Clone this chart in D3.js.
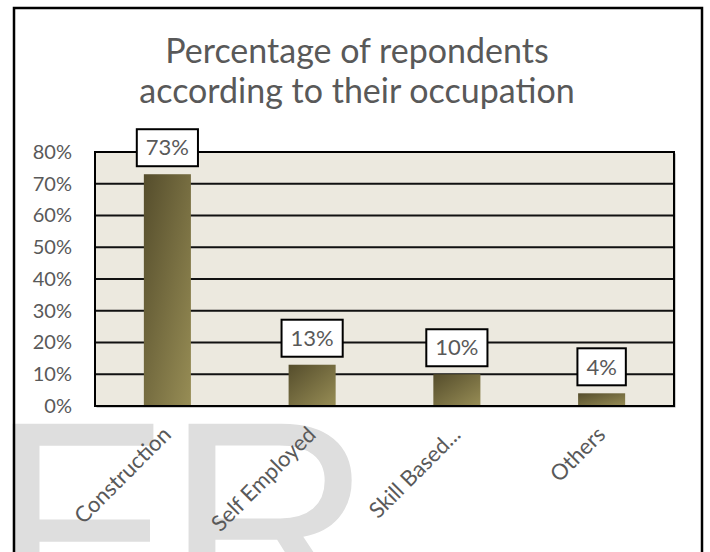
<!DOCTYPE html>
<html>
<head>
<meta charset="utf-8">
<script src="https://cdn.jsdelivr.net/npm/d3@7"></script>
<style>
  html, body { margin: 0; padding: 0; background: #fff; }
  svg { display: block; }
</style>
</head>
<body>
<svg id="chart" width="710" height="552"></svg>
<script>
// chart data
const titleLines = ['Percentage of repondents', 'according to their occupation'];
const categories = ['Construction', 'Self Employed', 'Skill Based...', 'Others'];
const values = [0.73, 0.13, 0.10, 0.04];
const yTicks = [0, 0.1, 0.2, 0.3, 0.4, 0.5, 0.6, 0.7, 0.8];
const watermark = 'FR';

const width = 710, height = 552;
const plot = {left: 95, right: 674, top: 152, bottom: 406};
const textColor = '#595959';
const font = 'Lato, "Open Sans", sans-serif';

let svg = d3.select('#chart');

// gradient for the bars
let defs = svg.append('defs');
let grad = defs.append('linearGradient')
    .attr('id', 'barGrad')
    .attr('x1', 0).attr('y1', 0)
    .attr('x2', 1).attr('y2', 1);
grad.append('stop').attr('offset', '0%').attr('stop-color', '#554d2c');
grad.append('stop').attr('offset', '100%').attr('stop-color', '#978d55');

// watermark behind everything
svg.append('text')
    .attr('x', -11)
    .attr('y', 622)
    .style('font-family', '"Liberation Sans", Arial, sans-serif')
    .style('font-size', '288px')
    .style('fill', '#dedede')
    .text(watermark);

// outer frame
svg.append('rect')
    .attr('x', 14).attr('y', 8)
    .attr('width', 688).attr('height', 580)
    .style('fill', 'none')
    .style('stroke', '#000')
    .style('stroke-width', 2.5);

// title
svg.append('text')
    .attr('x', 357)
    .attr('text-anchor', 'middle')
    .style('font-family', font)
    .style('font-size', '34px')
    .style('fill', textColor)
    .selectAll('tspan')
    .data(titleLines)
    .join('tspan')
    .attr('x', 357)
    .attr('y', (d, i) => 63 + i * 39.5)
    .text(d => d);

let x = d3.scaleBand()
    .domain(categories)
    .range([plot.left, plot.right])
    .paddingInner(0.675)
    .paddingOuter(0.3375);

let y = d3.scaleLinear()
    .domain([0, 0.8])
    .range([plot.bottom, plot.top]);

// plot area background with a faint shadow
svg.append('rect')
    .attr('x', plot.left + 1.5).attr('y', plot.top + 1.5)
    .attr('width', plot.right - plot.left).attr('height', plot.bottom - plot.top)
    .style('fill', '#9a9a9a');
svg.append('rect')
    .attr('x', plot.left).attr('y', plot.top)
    .attr('width', plot.right - plot.left).attr('height', plot.bottom - plot.top)
    .style('fill', '#ece9df');

// gridlines
svg.append('g')
    .selectAll('line')
    .data(yTicks.slice(1, -1))
    .join('line')
    .attr('x1', plot.left).attr('x2', plot.right)
    .attr('y1', d => y(d)).attr('y2', d => y(d))
    .style('stroke', '#111')
    .style('stroke-width', 2);

// bars
svg.append('g')
    .selectAll('rect')
    .data(values)
    .join('rect')
    .attr('x', (d, i) => x(categories[i]))
    .attr('y', d => y(d))
    .attr('width', x.bandwidth())
    .attr('height', d => y(0) - y(d))
    .style('fill', 'url(#barGrad)');

// plot border
svg.append('rect')
    .attr('x', plot.left).attr('y', plot.top)
    .attr('width', plot.right - plot.left).attr('height', plot.bottom - plot.top)
    .style('fill', 'none')
    .style('stroke', '#000')
    .style('stroke-width', 2);

// y axis labels
let yAxis = d3.axisLeft(y)
    .tickValues(yTicks)
    .tickFormat(d3.format('.0%'))
    .tickSize(0)
    .tickPadding(23);
let yg = svg.append('g')
    .attr('transform', `translate(${plot.left},0)`)
    .call(yAxis);
yg.select('.domain').remove();
yg.selectAll('text')
    .style('font-family', font)
    .style('font-size', '20px')
    .style('fill', textColor);

// x axis labels, rotated
svg.append('g')
    .selectAll('text')
    .data(categories)
    .join('text')
    .attr('transform', d => `translate(${x(d) + x.bandwidth() / 2 + 5},436) rotate(-45)`)
    .attr('text-anchor', 'end')
    .style('font-family', font)
    .style('font-size', '22px')
    .style('fill', textColor)
    .text(d => d);

// data labels in boxes
let labels = svg.append('g')
    .selectAll('g')
    .data(values)
    .join('g')
    .attr('transform', (d, i) => `translate(${x(categories[i]) + x.bandwidth() / 2},${y(d) - 8})`);

labels.append('text')
    .attr('y', -18.5)
    .attr('dy', '0.35em')
    .attr('text-anchor', 'middle')
    .style('font-family', font)
    .style('font-size', '22px')
    .style('fill', textColor)
    .text(d => d3.format('.0%')(d));

labels.each(function () {
    let g = d3.select(this);
    let w = g.select('text').node().getComputedTextLength() + 18;
    g.insert('rect', 'text')
        .attr('x', -w / 2)
        .attr('y', -37)
        .attr('width', w)
        .attr('height', 37)
        .style('fill', '#fff')
        .style('stroke', '#000')
        .style('stroke-width', 2);
});
</script>
</body>
</html>
